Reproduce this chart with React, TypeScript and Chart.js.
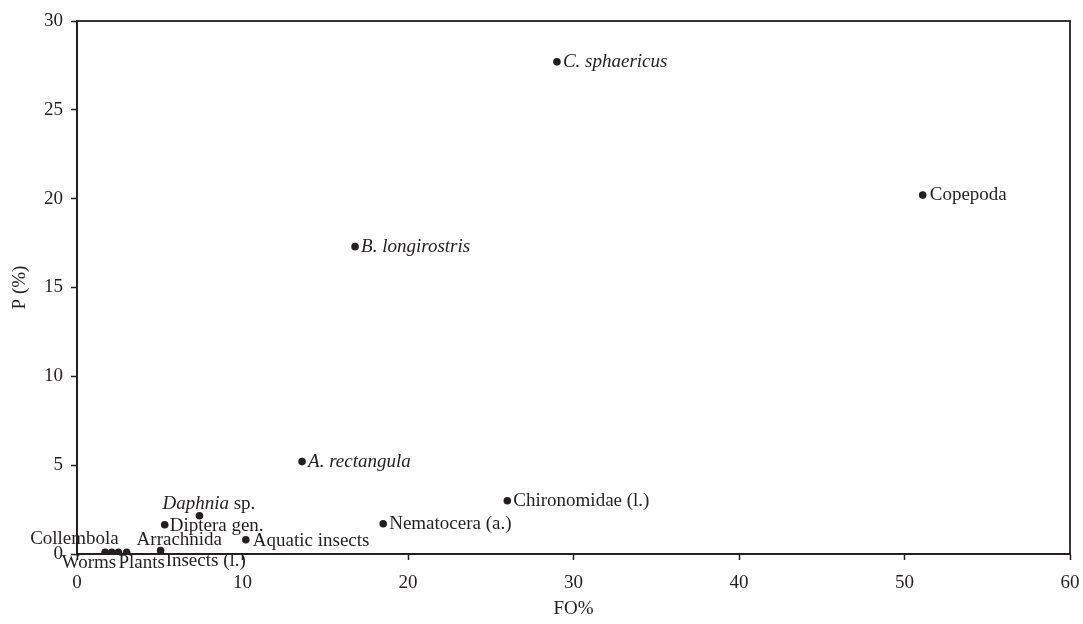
import React, { useEffect, useRef } from "react";
import { Chart, registerables } from "chart.js";

Chart.register(...registerables);

// Taxa; text between underscores is set in italics
const taxa = [
  "_C. sphaericus_",
  "Copepoda",
  "_B. longirostris_",
  "_A. rectangula_",
  "Chironomidae (l.)",
  "Nematocera (a.)",
  "_Daphnia_ sp.",
  "Diptera gen.",
  "Aquatic insects",
  "Arrachnida",
  "Collembola",
  "Worms",
  "Plants",
  "Insects (l.)",
];
const foPercent = [29.0, 51.1, 16.8, 13.6, 26.0, 18.5, 7.4, 5.3, 10.2, 5.05, 1.7, 2.1, 2.5, 3.0];
const pPercent = [27.7, 20.2, 17.3, 5.2, 3.0, 1.7, 2.15, 1.65, 0.8, 0.2, 0.1, 0.1, 0.1, 0.1];

const xTicks = [0, 10, 20, 30, 40, 50, 60];
const yTicks = [0, 5, 10, 15, 20, 25, 30];

// label placement relative to its point (px), left-aligned text
const labelOffsets: [number, number][] = [
  [6, 0],
  [7, 0],
  [6, 0],
  [6, 0],
  [6, 0],
  [6, 0],
  [-37, -12],
  [5, 1],
  [7, 1],
  [-24, -10],
  [-75, -13],
  [-50, 11],
  [0, 11],
  [39, 9],
];

const FONT = "'Liberation Serif', 'Times New Roman', serif";
const FS = 19;

const labelPlugin = {
  id: "pointLabels",
  afterDatasetsDraw(chart: any) {
    const ctx = chart.ctx;
    const meta = chart.getDatasetMeta(0);
    ctx.save();
    ctx.fillStyle = "#231f20";
    ctx.textBaseline = "middle";
    ctx.textAlign = "left";
    meta.data.forEach((pt: any, i: number) => {
      const [dx, dy] = labelOffsets[i];
      let x = pt.x + dx;
      const y = pt.y + dy;
      const parts = taxa[i].split("_");
      parts.forEach((seg, k) => {
        if (!seg) return;
        ctx.font = `${k % 2 === 1 ? "italic " : ""}${FS}px ${FONT}`;
        ctx.fillText(seg, x, y);
        x += ctx.measureText(seg).width;
      });
    });
    ctx.restore();
  },
};

const framePlugin = {
  id: "frame",
  afterDraw(chart: any) {
    const { ctx, chartArea } = chart;
    ctx.save();
    ctx.strokeStyle = "#231f20";
    ctx.lineWidth = 1.8;
    ctx.strokeRect(chartArea.left, chartArea.top, chartArea.right - chartArea.left, chartArea.bottom - chartArea.top);
    ctx.restore();
  },
};

export default function App() {
  const ref = useRef<HTMLCanvasElement | null>(null);

  useEffect(() => {
    if (!ref.current) return;
    const chart = new Chart(ref.current, {
      type: "scatter",
      data: {
        datasets: [
          {
            data: foPercent.map((x, i) => ({ x, y: pPercent[i] })),
            backgroundColor: "#231f20",
            borderColor: "#231f20",
            pointRadius: 3.8,
            pointHoverRadius: 3.8,
            borderWidth: 0,
          },
        ],
      },
      options: {
        responsive: false,
        animation: false,
        devicePixelRatio: 1,
        layout: { padding: { top: 21, right: 13, left: 0, bottom: 0 } },
        plugins: {
          legend: { display: false },
          tooltip: { enabled: false },
        },
        scales: {
          x: {
            type: "linear",
            min: 0,
            max: 60,
            afterBuildTicks: (s: any) => {
              s.ticks = xTicks.map((v) => ({ value: v }));
            },
            afterFit: (s: any) => {
              s.height = 70;
              s.paddingLeft = 0;
              s.paddingRight = 0;
            },
            grid: {
              drawOnChartArea: false,
              drawTicks: true,
              tickLength: 6,
              tickColor: "#231f20",
              tickWidth: 1.5,
            },
            border: { display: true, color: "#231f20", width: 1.8 },
            ticks: {
              color: "#231f20",
              padding: 12,
              maxRotation: 0,
              font: { family: FONT, size: FS },
            },
            title: {
              display: true,
              text: "FO%",
              color: "#231f20",
              font: { family: FONT, size: FS },
              padding: { top: 0, bottom: 4 },
            },
          },
          y: {
            type: "linear",
            min: 0,
            max: 30,
            afterBuildTicks: (s: any) => {
              s.ticks = yTicks.map((v) => ({ value: v }));
            },
            afterFit: (s: any) => {
              s.width = 77;
              s.paddingTop = 0;
              s.paddingBottom = 0;
            },
            grid: {
              drawOnChartArea: false,
              drawTicks: true,
              tickLength: 6,
              tickColor: "#231f20",
              tickWidth: 1.5,
            },
            border: { display: true, color: "#231f20", width: 1.8 },
            ticks: {
              color: "#231f20",
              padding: 8,
              font: { family: FONT, size: FS },
            },
            title: {
              display: true,
              text: "P (%)",
              color: "#231f20",
              font: { family: FONT, size: FS },
              padding: { top: 9, bottom: 0 },
            },
          },
        },
      },
      plugins: [labelPlugin, framePlugin],
    });
    return () => chart.destroy();
  }, []);

  return (
    <div style={{ position: "absolute", left: 0, top: 0, width: 1083, height: 624, background: "#fff" }}>
      <canvas ref={ref} width={1083} height={624} style={{ display: "block" }} />
    </div>
  );
}
